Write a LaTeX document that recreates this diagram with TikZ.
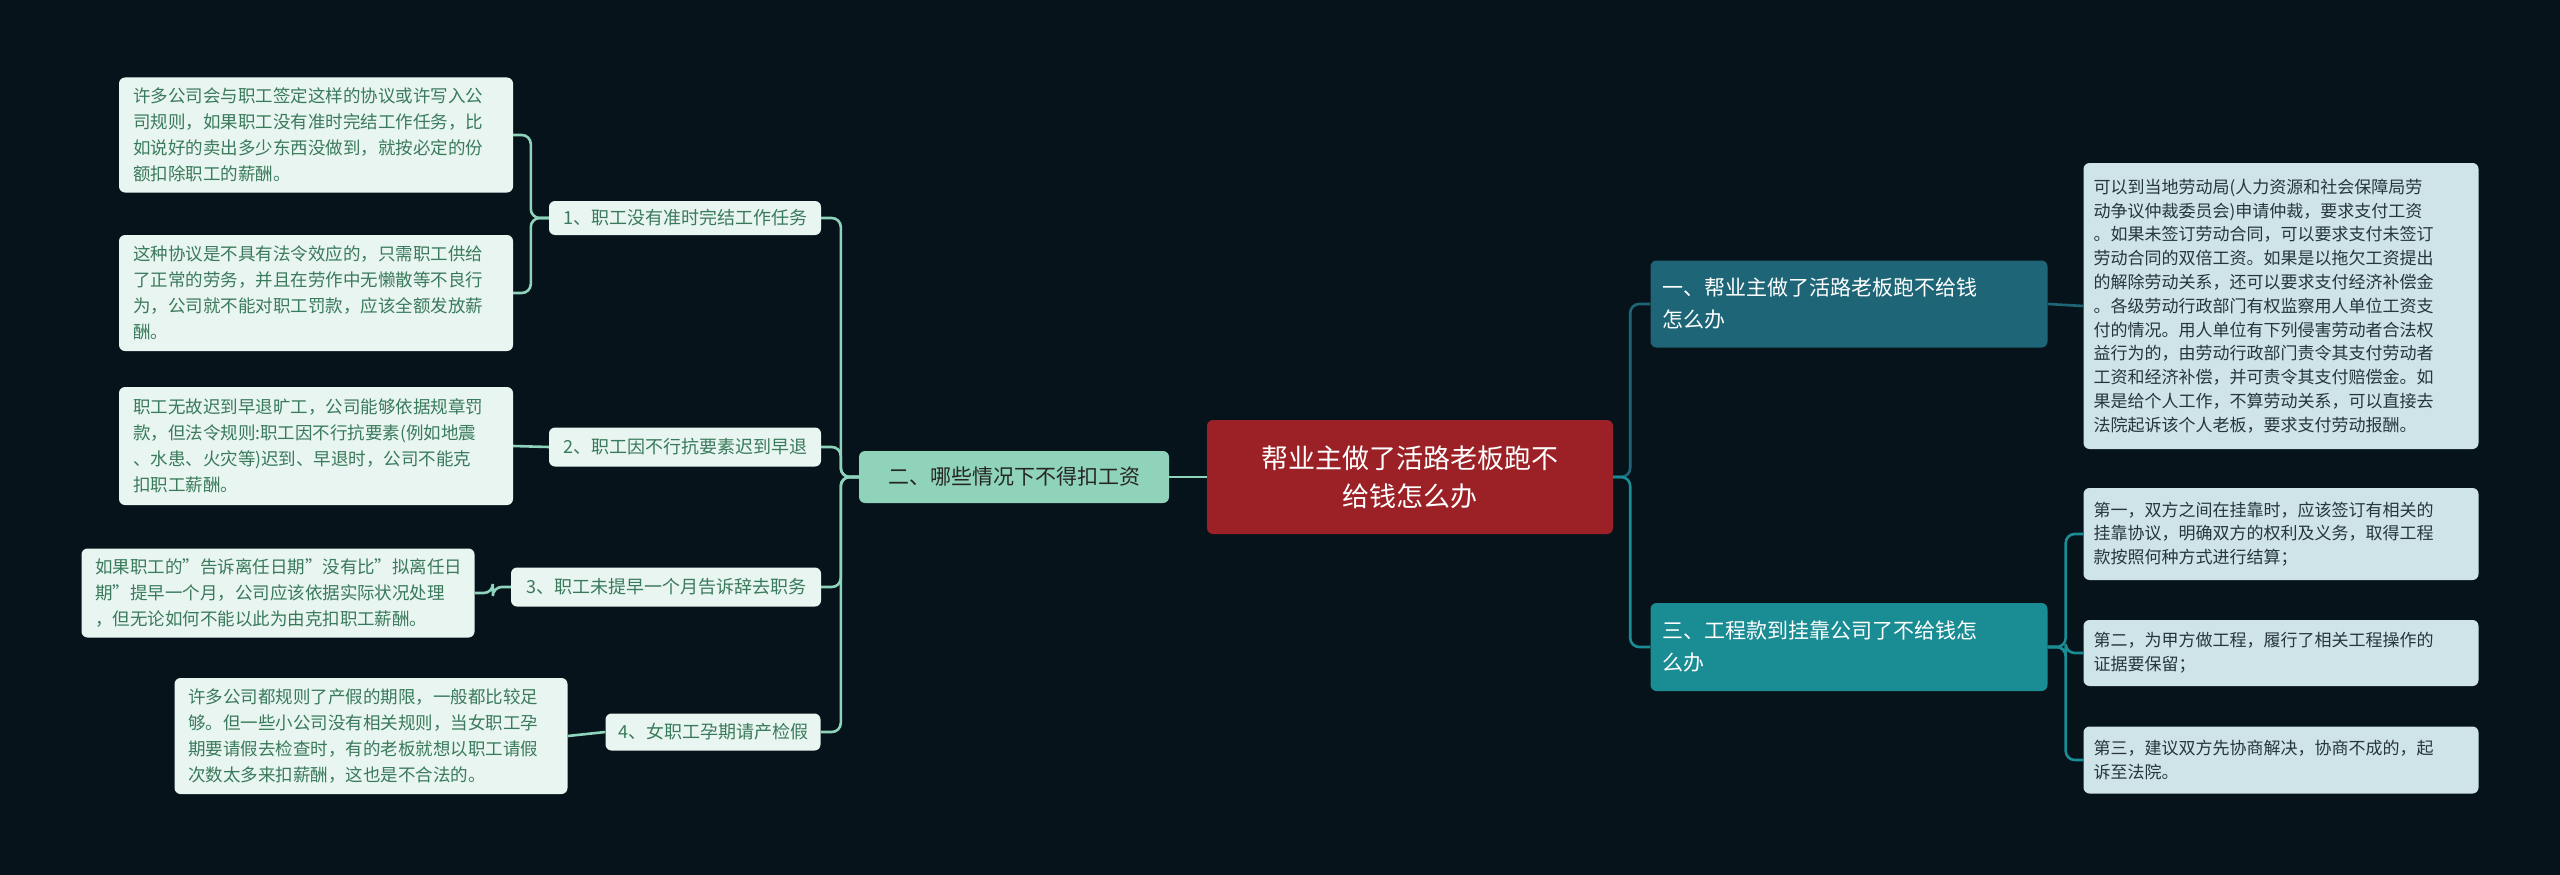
\documentclass[tikz,border=0pt]{standalone}
\usepackage{fontspec}
\setmainfont{Noto Sans CJK SC}
\begin{document}
\begin{tikzpicture}[x=1pt,y=-1pt,
  box/.style={rounded corners=6pt,inner sep=0pt,align=left},
  leafL/.style={box,fill=leafg,text=leaft,font=\fontsize{17.5}{26}\selectfont},
  leafR/.style={box,fill=leafb,text=leafrt,font=\fontsize{17}{23.8}\selectfont},
  sub/.style={box,fill=leafg,text=leaft,font=\fontsize{18}{22}\selectfont,align=center},
  lc/.style={draw=linel,line width=2.6pt,rounded corners=9pt},
  rc1/.style={draw=liner1,line width=2.6pt,rounded corners=9pt},
  rc2/.style={draw=liner2,line width=2.6pt,rounded corners=9pt}]
\definecolor{bg}{HTML}{07131A}
\definecolor{leafg}{HTML}{E8F5F0}
\definecolor{leaft}{HTML}{3A7A5C}
\definecolor{leafb}{HTML}{CFE4E8}
\definecolor{leafrt}{HTML}{26363C}
\definecolor{linel}{HTML}{8ED3BC}
\definecolor{liner1}{HTML}{1E6677}
\definecolor{liner2}{HTML}{1A8C94}
\definecolor{cred}{HTML}{9B2126}
\definecolor{mint}{HTML}{8FD3BA}
\fill[bg] (0,0) rectangle (2560,875);
\useasboundingbox (0,0) rectangle (2560,875);

\node[box,fill=cred,text=white,align=center,minimum width=406pt,minimum height=114pt,font=\fontsize{27}{38}\selectfont] (c) at (1410,477) {帮业主做了活路老板跑不\\给钱怎么办};
\node[box,fill=mint,text=black!85,minimum width=310pt,minimum height=52pt,align=center,font=\fontsize{21}{26}\selectfont] (lm) at (1014,477) {二、哪些情况下不得扣工资};
\node[box,fill=liner1,text=white,minimum width=397pt,minimum height=87pt,text width=373pt,font=\fontsize{21}{32}\selectfont] (r1) at (1849,304) {一、帮业主做了活路老板跑不给钱\\怎么办};
\node[box,fill=liner2,text=white,minimum width=397pt,minimum height=88pt,text width=373pt,font=\fontsize{21}{32}\selectfont] (r2) at (1849,647) {三、工程款到挂靠公司了不给钱怎\\么办};

\node[sub,minimum width=272pt,minimum height=34pt] (s1) at (685,218) {1、职工没有准时完结工作任务};
\node[sub,minimum width=272pt,minimum height=39pt] (s2) at (685,447) {2、职工因不行抗要素迟到早退};
\node[sub,minimum width=310pt,minimum height=39pt] (s3) at (666,587) {3、职工未提早一个月告诉辞去职务};
\node[sub,minimum width=215pt,minimum height=37pt] (s4) at (713,732) {4、女职工孕期请产检假};

\node[leafL,minimum width=394pt,minimum height=115pt,text width=366pt] (l1a) at (316,135) {许多公司会与职工签定这样的协议或许写入公\\司规则，如果职工没有准时完结工作任务，比\\如说好的卖出多少东西没做到，就按必定的份\\额扣除职工的薪酬。};
\node[leafL,minimum width=394pt,minimum height=116pt,text width=366pt] (l1b) at (316,293) {这种协议是不具有法令效应的，只需职工供给\\了正常的劳务，并且在劳作中无懒散等不良行\\为，公司就不能对职工罚款，应该全额发放薪\\酬。};
\node[leafL,minimum width=394pt,minimum height=118pt,text width=366pt] (l2) at (316,446) {职工无故迟到早退旷工，公司能够依据规章罚\\款，但法令规则:职工因不行抗要素(例如地震\\、水患、火灾等)迟到、早退时，公司不能克\\扣职工薪酬。};
\node[leafL,minimum width=393pt,minimum height=89pt,text width=366pt] (l3) at (278,593) {如果职工的"告诉离任日期"没有比"拟离任日\\期"提早一个月，公司应该依据实际状况处理\\，但无论如何不能以此为由克扣职工薪酬。};
\node[leafL,minimum width=393pt,minimum height=116pt,text width=366pt] (l4) at (371,736) {许多公司都规则了产假的期限，一般都比较足\\够。但一些小公司没有相关规则，当女职工孕\\期要请假去检查时，有的老板就想以职工请假\\次数太多来扣薪酬，这也是不合法的。};

\node[leafR,minimum width=395pt,minimum height=286pt,text width=375pt] (rl1) at (2281,306) {可以到当地劳动局(人力资源和社会保障局劳\\动争议仲裁委员会)申请仲裁，要求支付工资\\。如果未签订劳动合同，可以要求支付未签订\\劳动合同的双倍工资。如果是以拖欠工资提出\\的解除劳动关系，还可以要求支付经济补偿金\\。各级劳动行政部门有权监察用人单位工资支\\付的情况。用人单位有下列侵害劳动者合法权\\益行为的，由劳动行政部门责令其支付劳动者\\工资和经济补偿，并可责令其支付赔偿金。如\\果是给个人工作，不算劳动关系，可以直接去\\法院起诉该个人老板，要求支付劳动报酬。};
\node[leafR,minimum width=395pt,minimum height=92pt,text width=375pt] (rl2a) at (2281,534) {第一，双方之间在挂靠时，应该签订有相关的\\挂靠协议，明确双方的权利及义务，取得工程\\款按照何种方式进行结算；};
\node[leafR,minimum width=395pt,minimum height=66pt,text width=375pt] (rl2b) at (2281,653) {第二，为甲方做工程，履行了相关工程操作的\\证据要保留；};
\node[leafR,minimum width=395pt,minimum height=67pt,text width=375pt] (rl2c) at (2281,760) {第三，建议双方先协商解决，协商不成的，起\\诉至法院。};

\draw[lc] (c.west) -- (lm.east);
\foreach \s in {s1,s2,s3,s4} \draw[lc] (lm.west) -- ++(-18,0) |- (\s.east);
\draw[lc] (s1.west) -- ++(-18,0) |- (l1a.east);
\draw[lc] (s1.west) -- ++(-18,0) |- (l1b.east);
\draw[lc] (s2.west) -- (l2.east);
\draw[lc] (s3.west) -- ++(-18,0) |- (l3.east);
\draw[lc] (s4.west) -- (l4.east);
\draw[rc1] (c.east) -- ++(17,0) |- (r1.west);
\draw[rc2] (c.east) -- ++(17,0) |- (r2.west);
\draw[rc1] (r1.east) -- (rl1.west);
\foreach \t in {rl2a,rl2b,rl2c} \draw[rc2] (r2.east) -- ++(18,0) |- (\t.west);
\end{tikzpicture}
\end{document}
